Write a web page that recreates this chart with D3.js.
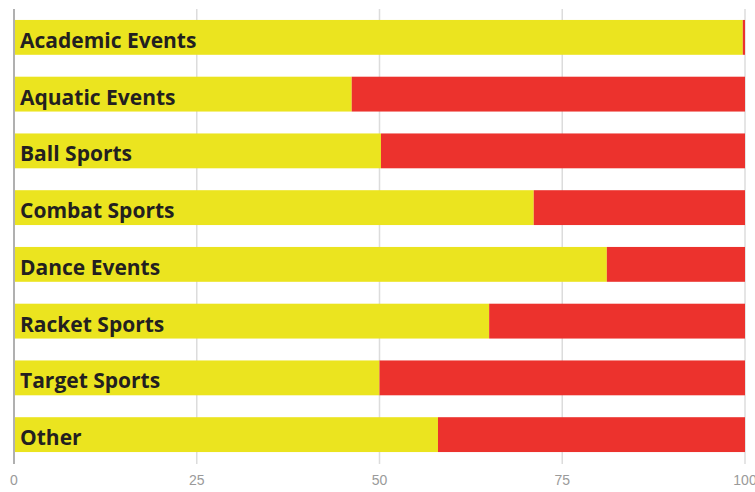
<!DOCTYPE html>
<html>
<head>
<meta charset="utf-8">
<script src="https://cdn.jsdelivr.net/npm/d3@7"></script>
<style>
  body { margin: 0; background: #fff; }
  svg { display: block; }
</style>
</head>
<body>
<svg id="chart" width="755" height="492"></svg>
<script>
// data (share in %, yellow part; red fills the rest)
var categories = ['Academic Events', 'Aquatic Events', 'Ball Sports', 'Combat Sports',
                  'Dance Events', 'Racket Sports', 'Target Sports', 'Other'];
var yellowValues = [99.7, 46.2, 50.2, 71.1, 81.1, 65.0, 50.0, 58.0];
var tickValues = [0, 25, 50, 75, 100];

var width = 755, height = 492;
var margin = { top: 9, right: 10, bottom: 30, left: 14 };

var svg = d3.select('#chart');

var x = d3.scaleLinear()
    .domain([0, 100])
    .range([margin.left, 745]);

var y = d3.scaleBand()
    .domain(categories)
    .range([margin.top, 463])
    .paddingInner(0.386)
    .paddingOuter(0.193);

// gridlines
svg.append('g')
    .selectAll('line')
    .data(tickValues.slice(1))
    .enter()
    .append('line')
    .attr('x1', function(d) { return x(d); })
    .attr('x2', function(d) { return x(d); })
    .attr('y1', margin.top)
    .attr('y2', 464)
    .style('stroke', '#dcdcdc')
    .style('stroke-width', 1.5);

var rows = svg.append('g')
    .selectAll('g')
    .data(categories)
    .enter()
    .append('g');

rows.append('rect')
    .attr('x', x(0))
    .attr('y', function(d) { return y(d); })
    .attr('width', function(d, i) { return x(yellowValues[i]) - x(0); })
    .attr('height', y.bandwidth())
    .style('fill', '#ebe41f');

rows.append('rect')
    .attr('x', function(d, i) { return x(yellowValues[i]); })
    .attr('y', function(d) { return y(d); })
    .attr('width', function(d, i) { return x(100) - x(yellowValues[i]); })
    .attr('height', y.bandwidth())
    .style('fill', '#ec322d');

rows.append('text')
    .attr('x', 20)
    .attr('y', function(d) { return y(d) + y.bandwidth() / 2; })
    .attr('dy', '0.5em')
    .style('font-family', '"Open Sans", sans-serif')
    .style('font-weight', 'bold')
    .style('font-size', '21px')
    .style('fill', '#231f20')
    .text(function(d) { return d; });

// left axis line
svg.append('line')
    .attr('x1', x(0))
    .attr('x2', x(0))
    .attr('y1', margin.top)
    .attr('y2', 464)
    .style('stroke', '#b0b0b0')
    .style('stroke-width', 2);

// tick labels
svg.append('g')
    .selectAll('text')
    .data(tickValues)
    .enter()
    .append('text')
    .attr('x', function(d) { return x(d); })
    .attr('y', 485)
    .attr('text-anchor', 'middle')
    .style('font-family', '"Liberation Sans Narrow", "Liberation Sans", sans-serif')
    .style('font-size', '14px')
    .style('fill', '#9a9a9a')
    .text(function(d) { return d; });
</script>
</body>
</html>
